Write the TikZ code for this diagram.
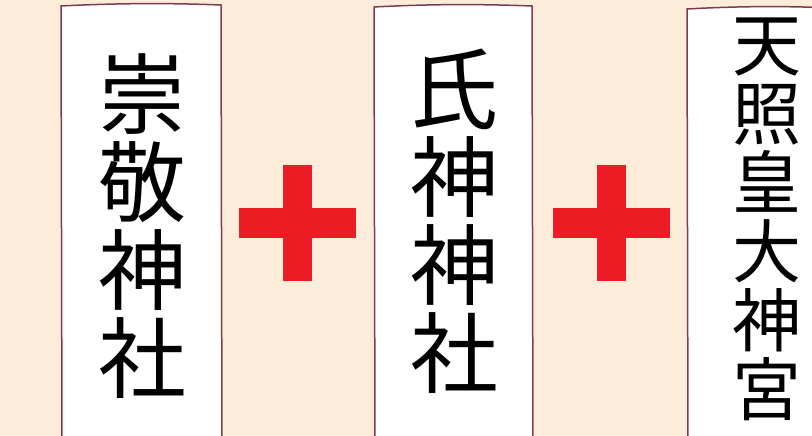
\documentclass[tikz,border=0pt]{standalone}
\usepackage{fontspec}
\newfontfamily\cjk{Noto Sans CJK JP}
\definecolor{bgpeach}{RGB}{253,236,218}
\definecolor{framemaroon}{RGB}{125,60,82}
\definecolor{plusred}{RGB}{237,28,36}
\begin{document}
\begin{tikzpicture}[x=1pt,y=-1pt,
  card/.style={draw=framemaroon,line width=1.5pt,fill=white},
  vtext/.style={inner sep=0pt,outer sep=0pt,align=center,text=black},
  plusbar/.style={fill=plusred,draw=none}]
\useasboundingbox (0,0) rectangle (812,436);
\clip (0,0) rectangle (812,436);
\fill[bgpeach] (0,0) rectangle (812,436);
% cards
\draw[card] (61,6) .. controls (120,3) and (170,3) .. (221,5) -- (222,450) -- (62,450) -- cycle;
\draw[card] (374,7) .. controls (430,4) and (480,4) .. (532,6) -- (533,450) -- (375,450) -- cycle;
\draw[card] (687,9) .. controls (740,6) and (790,6) .. (830,8) -- (830,450) -- (688,450) -- cycle;
% texts
\node[vtext,font=\cjk\fontsize{88}{88}\selectfont] (t1) at (142,226) {崇\\敬\\神\\社};
\node[vtext,font=\cjk\fontsize{88}{88}\selectfont] (t2) at (454,221) {氏\\神\\神\\社};
\node[vtext,font=\cjk\fontsize{69}{69}\selectfont] (t3) at (767,219) {天\\照\\皇\\大\\神\\宮};
% plus signs
\fill[plusbar] (239,208) rectangle (356,238);
\fill[plusbar] (283,165) rectangle (312,281);
\fill[plusbar] (553,208) rectangle (670,238);
\fill[plusbar] (597,165) rectangle (626,281);
\end{tikzpicture}
\end{document}
